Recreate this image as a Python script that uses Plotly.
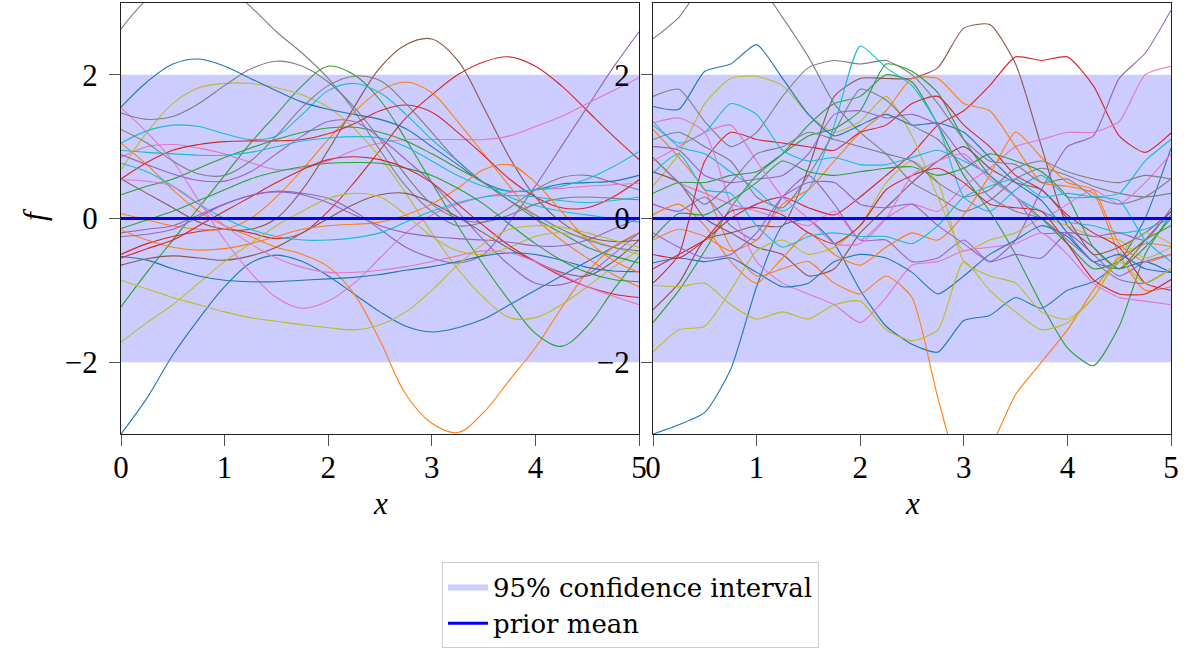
import plotly.graph_objects as go
from plotly.subplots import make_subplots

# ---------------- data ----------------
x_grid = [0, 0.25, 0.5, 0.75, 1, 1.25, 1.5, 1.75, 2, 2.25, 2.5, 2.75, 3,
          3.25, 3.5, 3.75, 4, 4.25, 4.5, 4.75, 5]
x_ticks = [0, 1, 2, 3, 4, 5]
y_ticks = [-2, 0, 2]
x_range = [0, 5]
y_range = [-3, 3]
prior_mean = [0, 0]
band_upper = [2, 2]
band_lower = [-2, -2]

# Left panel: smooth prior samples
L_blue_a = [-3.0, -2.5, -1.9, -1.4, -0.95, -0.62, -0.51, -0.6, -0.8, -1.05, -1.3, -1.5, -1.58, -1.52, -1.4, -1.2, -1.0, -0.8, -0.6, -0.4, -0.2]
L_orange_a = [1.05, 0.75, 0.4, 0.1, -0.1, -0.25, -0.4, -0.5, -0.67, -1.05, -1.7, -2.45, -2.85, -2.98, -2.7, -2.25, -1.8, -1.25, -0.75, -0.4, -0.2]
L_green_a = [-1.23, -0.75, -0.3, 0.15, 0.6, 1.05, 1.45, 1.85, 2.12, 2.0, 1.65, 1.1, 0.5, -0.1, -0.65, -1.15, -1.6, -1.78, -1.5, -1.0, -0.53]
L_red_a = [-0.5, -0.35, -0.25, -0.18, -0.15, -0.2, -0.28, -0.2, 0.1, 0.5, 0.95, 1.4, 1.72, 2.0, 2.18, 2.25, 2.12, 1.85, 1.5, 1.15, 0.82]
L_purple_a = [-0.2, -0.15, -0.1, 0.05, 0.2, 0.32, 0.38, 0.35, 0.28, 0.1, -0.15, -0.4, -0.55, -0.62, -0.5, -0.05, 0.45, 1.0, 1.55, 2.1, 2.6]
L_brown_a = [0.55, 0.35, 0.15, -0.05, -0.15, -0.15, 0.0, 0.4, 0.95, 1.55, 2.1, 2.42, 2.5, 2.2, 1.55, 0.85, 0.3, -0.05, -0.25, -0.32, -0.3]
L_pink_a = [0.85, 1.0, 1.03, 0.98, 0.9, 0.78, 0.68, 0.7, 0.8, 0.95, 1.05, 1.1, 1.1, 1.1, 1.1, 1.15, 1.28, 1.42, 1.6, 1.78, 1.96]
L_gray_a = [2.64, 3.05, 3.3, 3.4, 3.25, 2.95, 2.6, 2.3, 1.95, 1.5, 0.95, 0.45, 0.1, -0.1, -0.05, 0.15, 0.4, 0.57, 0.6, 0.5, 0.4]
L_olive_a = [0.68, 1.2, 1.6, 1.82, 1.88, 1.88, 1.82, 1.72, 1.55, 1.25, 0.85, 0.35, -0.2, -0.7, -1.1, -1.38, -1.38, -1.2, -0.95, -0.68, -0.44]
L_cyan_a = [1.05, 1.22, 1.3, 1.28, 1.18, 1.1, 1.15, 1.45, 1.78, 1.88, 1.75, 1.45, 1.1, 0.8, 0.5, 0.3, 0.18, 0.1, 0.05, 0.0, -0.05]
L_blue_b = [1.55, 1.9, 2.15, 2.22, 2.12, 1.95, 1.78, 1.62, 1.52, 1.45, 1.38, 1.25, 1.0, 0.75, 0.5, 0.38, 0.4, 0.48, 0.5, 0.52, 0.6]
L_orange_b = [0.07, -0.02, -0.1, -0.15, -0.15, 0.0, 0.3, 0.68, 1.1, 1.48, 1.78, 1.9, 1.75, 1.35, 0.9, 0.45, 0.0, -0.3, -0.55, -0.78, -0.95]
L_green_b = [0.33, 0.45, 0.55, 0.7, 0.85, 0.98, 1.1, 1.2, 1.26, 1.27, 1.2, 1.08, 0.9, 0.7, 0.5, 0.25, 0.0, -0.2, -0.4, -0.52, -0.62]
L_red_b = [0.55, 0.78, 0.95, 1.03, 1.07, 1.08, 1.08, 1.1, 1.18, 1.32, 1.5, 1.58, 1.48, 1.2, 0.88, 0.55, 0.3, 0.15, 0.15, 0.3, 0.54]
L_purple_b = [0.89, 0.75, 0.62, 0.53, 0.52, 0.65, 0.9, 1.15, 1.35, 1.35, 1.12, 0.82, 0.5, 0.1, -0.3, -0.65, -0.9, -0.92, -0.78, -0.5, -0.2]
L_brown_b = [-0.65, -0.56, -0.52, -0.55, -0.58, -0.52, -0.4, -0.2, 0.0, 0.2, 0.33, 0.35, 0.22, 0.02, -0.2, -0.42, -0.6, -0.75, -0.8, -0.6, -0.3]
L_pink_b = [1.54, 1.2, 0.8, 0.25, -0.3, -0.75, -1.1, -1.25, -1.15, -0.9, -0.55, -0.2, 0.05, 0.2, 0.3, 0.36, 0.4, 0.42, 0.45, 0.47, 0.49]
L_gray_b = [1.47, 1.38, 1.42, 1.6, 1.85, 2.08, 2.19, 2.12, 1.9, 1.55, 1.1, 0.6, 0.2, 0.0, -0.05, 0.05, 0.2, 0.28, 0.3, 0.28, 0.26]
L_olive_b = [-1.72, -1.45, -1.2, -0.9, -0.6, -0.35, -0.1, 0.1, 0.28, 0.35, 0.3, 0.05, -0.25, -0.45, -0.5, -0.4, -0.25, -0.2, -0.28, -0.4, -0.5]
L_cyan_b = [0.77, 0.65, 0.45, 0.2, 0.0, -0.15, -0.25, -0.3, -0.3, -0.27, -0.2, -0.05, 0.1, 0.22, 0.3, 0.32, 0.3, 0.25, 0.22, 0.25, 0.3]
L_blue_c = [-0.53, -0.58, -0.7, -0.8, -0.86, -0.88, -0.88, -0.86, -0.84, -0.82, -0.78, -0.72, -0.67, -0.6, -0.52, -0.48, -0.5, -0.58, -0.68, -0.73, -0.74]
L_orange_c = [-0.16, -0.3, -0.4, -0.44, -0.42, -0.35, -0.25, -0.15, -0.1, -0.08, -0.05, 0.05, 0.2, 0.42, 0.68, 0.75, 0.5, 0.1, -0.3, -0.58, -0.75]
L_green_c = [-0.14, -0.02, 0.1, 0.25, 0.4, 0.55, 0.65, 0.72, 0.77, 0.78, 0.77, 0.7, 0.6, 0.42, 0.2, -0.08, -0.35, -0.58, -0.75, -0.85, -0.88]
L_red_c = [-0.55, -0.42, -0.3, -0.1, 0.1, 0.3, 0.5, 0.68, 0.82, 0.86, 0.82, 0.7, 0.5, 0.2, -0.1, -0.38, -0.6, -0.8, -0.95, -1.05, -1.1]
L_purple_c = [-0.25, -0.22, -0.15, 0.02, 0.2, 0.32, 0.37, 0.33, 0.22, 0.05, -0.1, -0.2, -0.25, -0.28, -0.3, -0.33, -0.38, -0.38, -0.3, -0.15, 0.0]
L_pink_c = [0.54, 0.52, 0.45, 0.2, -0.1, -0.35, -0.55, -0.68, -0.75, -0.75, -0.72, -0.67, -0.6, -0.52, -0.45, -0.48, -0.6, -0.78, -0.95, -1.08, -1.2]
L_gray_c = [1.24, 1.05, 0.8, 0.62, 0.6, 0.8, 1.15, 1.55, 1.85, 1.98, 1.92, 1.6, 1.2, 0.8, 0.5, 0.25, 0.05, -0.15, -0.3, -0.4, -0.45]
L_olive_c = [-0.86, -0.98, -1.1, -1.2, -1.3, -1.38, -1.43, -1.48, -1.52, -1.55, -1.48, -1.3, -1.0, -0.65, -0.35, -0.15, -0.1, -0.12, -0.2, -0.3, -0.4]
L_cyan_c = [0.95, 0.92, 0.9, 0.88, 0.88, 0.92, 1.0, 1.08, 1.12, 1.14, 1.12, 1.0, 0.8, 0.6, 0.45, 0.38, 0.4, 0.45, 0.55, 0.72, 0.93]

# Right panel: rough prior samples
R_blue_a = [-3.0, -2.87, -2.7, -2.1, -0.95, -0.1, -0.02, -0.35, -1.0, -1.5, -1.75, -1.86, -1.42, -1.35, -1.1, -1.25, -1.0, -0.88, -0.6, 0.0, 0.98]
R_orange_a = [1.24, 0.85, 0.4, -0.4, -0.8, -0.7, -0.6, -0.9, -1.05, -0.8, -1.1, -2.5, -3.6, -3.2, -2.45, -2.0, -1.55, -1.0, -0.55, -0.35, -0.39]
R_green_a = [-1.45, -1.0, -0.45, 0.15, 0.6, 0.9, 1.3, 1.6, 1.7, 2.0, 1.9, 1.3, 0.6, 0.1, -0.5, -1.2, -1.8, -2.05, -1.5, -0.5, 0.05]
R_red_a = [-0.7, -0.5, -0.3, 0.0, 0.2, 0.3, 0.15, 0.05, 0.3, 0.6, 0.9, 1.3, 1.5, 1.85, 2.25, 2.2, 2.25, 1.85, 1.15, 0.92, 1.19]
R_purple_a = [0.2, 0.1, 0.3, -0.1, -0.3, 0.3, 0.6, 0.2, -0.3, -0.3, -0.6, -0.55, -0.3, -0.6, -0.3, 0.4, 1.0, 1.15, 1.95, 2.3, 2.9]
R_brown_a = [-1.27, -0.9, -0.3, -0.2, -0.1, -0.1, 0.7, 1.7, 1.95, 1.95, 1.95, 2.1, 2.65, 2.7, 2.15, 1.0, -0.1, -0.4, -0.7, -0.3, 0.1]
R_pink_a = [0.85, 0.5, 0.35, 0.2, 0.1, 0.0, -0.1, 0.1, -0.3, 0.0, 0.2, 0.1, 0.45, 0.7, 1.0, 1.1, 1.2, 1.2, 1.35, 2.0, 2.12]
R_gray_a = [2.5, 2.8, 3.3, 3.5, 3.3, 2.8, 2.25, 1.6, 1.2, 0.9, 0.5, 0.3, 0.1, 0.25, 0.55, 0.7, 0.6, 0.45, 0.35, 0.3, 0.35]
R_olive_a = [0.45, 0.9, 1.6, 1.95, 1.98, 1.85, 1.45, 1.2, 1.35, 1.7, 1.15, 0.3, -0.45, -0.3, -0.2, 0.0, -0.1, -0.25, -0.3, -0.55, -0.4]
R_cyan_a = [1.35, 1.0, 0.9, 0.65, 0.4, 0.1, 0.4, 1.3, 2.4, 2.1, 1.85, 1.3, 0.3, 0.1, 0.4, 0.6, 0.3, 0.3, 0.35, 0.8, 1.1]
R_blue_b = [1.56, 1.52, 2.05, 2.15, 2.42, 1.95, 1.45, 1.15, 1.3, 1.45, 1.3, 1.33, 1.2, 0.85, 0.5, 0.25, -0.2, -0.6, -0.7, -0.6, -0.75]
R_orange_b = [-0.3, -0.15, -0.25, -0.45, -0.3, 0.2, 0.4, 0.8, 1.2, 1.5, 1.95, 1.95, 1.6, 1.5, 1.0, 0.5, 0.45, 0.35, -0.5, -1.0, -0.95]
R_green_b = [0.35, 0.5, 0.5, 0.6, 0.65, 0.9, 1.15, 1.25, 1.5, 2.15, 2.05, 1.75, 1.1, 0.6, 0.3, 0.0, -0.35, -0.7, -0.6, -0.3, -0.1]
R_red_b = [-0.9, -0.5, 0.8, 1.2, 1.1, 1.05, 1.0, 0.95, 1.2, 1.3, 1.6, 1.7, 1.3, 1.0, 0.6, 0.4, 0.05, -0.2, -0.4, -0.9, -1.0]
R_purple_b = [1.0, 0.95, 0.6, 0.5, 0.55, 0.6, 0.9, 1.45, 1.5, 1.4, 1.45, 1.3, 0.85, 0.6, 0.3, -0.2, -0.2, -0.5, -0.8, -0.6, -0.5]
R_brown_b = [0.65, 0.5, 0.0, -0.2, -0.4, -0.5, -0.8, -0.7, -0.2, 0.15, 0.5, 0.8, 1.0, 0.7, 0.5, 0.4, 0.0, -0.5, -0.4, -0.2, 0.1]
R_pink_b = [1.33, 1.4, 1.2, 0.2, -0.6, -0.9, -1.05, -1.2, -1.45, -1.1, -0.65, -0.6, -0.45, -0.4, -0.35, -0.2, -0.5, -0.9, -1.1, -1.15, -1.2]
R_gray_b = [1.7, 1.8, 1.35, 1.0, 1.2, 1.7, 2.1, 2.2, 2.15, 2.2, 2.0, 1.6, 1.1, 0.8, 0.75, 0.5, 0.55, 0.3, 0.2, 0.3, 0.55]
R_olive_b = [-1.86, -1.55, -1.5, -1.0, -0.45, -0.3, -0.5, -0.4, -0.1, 0.5, 0.8, 0.5, -0.6, -0.8, -0.9, -1.3, -1.4, -1.1, -0.5, -0.2, -0.35]
R_cyan_b = [1.3, 1.05, 1.2, 1.6, 1.45, 0.95, 0.8, 0.85, 0.75, 0.75, 0.85, 0.95, 0.8, 0.6, 0.3, 0.1, -0.05, -0.1, -0.2, -0.15, 0.0]
R_blue_c = [-0.62, -0.55, -0.6, -0.55, -0.75, -0.95, -0.9, -0.6, -0.5, -0.55, -0.75, -1.05, -0.8, -0.5, -0.3, -0.1, -0.25, -0.6, -0.5, -0.7, -0.75]
R_orange_c = [0.05, 0.2, -0.1, -0.6, -0.9, -0.55, -0.2, -0.5, -0.65, -0.4, -0.2, -0.3, 0.05, 0.6, 1.2, 0.85, 0.5, 0.4, -0.35, -0.6, -0.5]
R_green_c = [-0.27, 0.07, 0.05, 0.25, 0.5, 0.8, 0.65, 0.6, 0.65, 0.7, 0.72, 0.6, 0.7, 0.9, 0.8, 0.65, 0.3, -0.4, -0.7, -0.4, 0.0]
R_red_c = [-0.5, -0.55, -0.3, 0.1, 0.15, 0.05, -0.2, -0.35, -0.1, 0.4, 0.6, 0.7, 0.5, 0.2, 0.15, 0.1, -0.35, -0.85, -1.05, -1.05, -0.85]
R_purple_c = [-0.2, -0.4, -0.55, -0.5, -0.2, 0.3, 0.5, 0.5, 0.2, 0.15, 0.2, -0.1, -0.35, -0.6, -0.5, -0.55, -0.2, -0.25, -0.2, -0.3, 0.15]
R_pink_c = [0.8, 1.0, 1.2, 1.3, 0.8, 0.3, 0.0, -0.35, -0.35, 0.0, 0.6, 0.8, 0.9, 0.55, 0.3, 0.0, 0.2, 0.4, 0.2, 0.5, 0.9]
R_gray_c = [1.1, 1.2, 1.0, 0.8, 0.3, 0.15, 0.6, 1.2, 1.8, 1.65, 1.3, 1.1, 0.7, 0.3, 0.1, 0.0, -0.3, -0.6, -0.85, -0.9, -0.7]
R_olive_c = [-0.93, -0.95, -0.9, -1.2, -1.4, -1.3, -1.4, -1.2, -1.15, -1.55, -1.7, -1.55, -0.6, -1.0, -1.3, -1.55, -1.45, -1.1, -0.6, -0.9, -0.7]
R_cyan_c = [0.63, 0.9, 0.4, 0.35, -0.1, -0.4, -0.25, -0.2, -0.25, -0.25, -0.35, -0.1, 0.3, 0.45, 0.55, 0.3, 0.35, 0.3, 0.25, -0.3, -0.6]
R_gray_d = [0.85, 0.5, 0.2, 0.5, 0.9, 1.0, 1.2, 1.1, 1.0, 0.9, 0.8, 0.5, 0.3, 0.4, 0.7, 0.8, 0.65, 0.55, 0.5, 0.6, 0.55]

# ---------------- styles ----------------
C = {"blue": "#1f77b4", "orange": "#ff7f0e", "green": "#2ca02c", "red": "#d62728",
     "purple": "#9467bd", "brown": "#8c564b", "pink": "#e377c2", "gray": "#7f7f7f",
     "olive": "#bcbd22", "cyan": "#17becf"}

left_samples = [
    ("blue", L_blue_a), ("orange", L_orange_a), ("green", L_green_a), ("red", L_red_a),
    ("purple", L_purple_a), ("brown", L_brown_a), ("pink", L_pink_a), ("gray", L_gray_a),
    ("olive", L_olive_a), ("cyan", L_cyan_a), ("blue", L_blue_b), ("orange", L_orange_b),
    ("green", L_green_b), ("red", L_red_b), ("purple", L_purple_b), ("brown", L_brown_b),
    ("pink", L_pink_b), ("gray", L_gray_b), ("olive", L_olive_b), ("cyan", L_cyan_b),
    ("blue", L_blue_c), ("orange", L_orange_c), ("green", L_green_c), ("red", L_red_c),
    ("purple", L_purple_c), ("pink", L_pink_c), ("gray", L_gray_c), ("olive", L_olive_c),
    ("cyan", L_cyan_c),
]
right_samples = [
    ("blue", R_blue_a), ("orange", R_orange_a), ("green", R_green_a), ("red", R_red_a),
    ("purple", R_purple_a), ("brown", R_brown_a), ("pink", R_pink_a), ("gray", R_gray_a),
    ("olive", R_olive_a), ("cyan", R_cyan_a), ("blue", R_blue_b), ("orange", R_orange_b),
    ("green", R_green_b), ("red", R_red_b), ("purple", R_purple_b), ("brown", R_brown_b),
    ("pink", R_pink_b), ("gray", R_gray_b), ("olive", R_olive_b), ("cyan", R_cyan_b),
    ("blue", R_blue_c), ("orange", R_orange_c), ("green", R_green_c), ("red", R_red_c),
    ("purple", R_purple_c), ("pink", R_pink_c), ("gray", R_gray_c), ("olive", R_olive_c),
    ("cyan", R_cyan_c), ("gray", R_gray_d),
]

FONT = "Liberation Serif"
LEGEND_FONT = "DejaVu Serif"
W, H = 1187, 650

fig = make_subplots(rows=1, cols=2)

for col in (1, 2):
    first = col == 1
    fig.add_trace(go.Scatter(x=x_range, y=band_upper, mode="lines", line=dict(width=0),
                             showlegend=False, hoverinfo="skip"), row=1, col=col)
    fig.add_trace(go.Scatter(x=x_range, y=band_lower, mode="lines", line=dict(width=0),
                             fill="tonexty", fillcolor="rgba(0,0,255,0.2)",
                             name="95% confidence interval", showlegend=first,
                             legendrank=1), row=1, col=col)
    samples = left_samples if first else right_samples
    for cname, ys in samples:
        line = dict(color=C[cname], width=1.1, shape="spline",
                    smoothing=1.0 if first else 0.6)
        fig.add_trace(go.Scatter(x=x_grid, y=ys, mode="lines", line=line,
                                 showlegend=False), row=1, col=col)
    fig.add_trace(go.Scatter(x=x_range, y=prior_mean, mode="lines",
                             line=dict(color="#0000ff", width=3),
                             name="prior mean", showlegend=first, legendrank=2),
                  row=1, col=col)


def px_x(p):
    return p / W


def px_y(p):
    return 1 - p / H


axis_common = dict(showgrid=False, zeroline=False, showline=True, mirror=True,
                   linecolor="#222222", linewidth=1.3, ticks="outside", ticklen=11,
                   tickwidth=1.3, tickcolor="#555555", automargin=False,
                   tickfont=dict(family=FONT, size=31, color="black"))

fig.update_xaxes(range=x_range, tickvals=x_ticks, ticklabelstandoff=-5, **axis_common)
fig.update_yaxes(range=y_range, tickvals=y_ticks, ticklabelstandoff=5, **axis_common)

title_font = dict(family=FONT, size=31, color="black")
annotations = [
    dict(text="<i>x</i>", x=px_x(380), y=px_y(503), xref="paper", yref="paper",
         showarrow=False, font=title_font, xanchor="center", yanchor="middle"),
    dict(text="<i>x</i>", x=px_x(912), y=px_y(503), xref="paper", yref="paper",
         showarrow=False, font=title_font, xanchor="center", yanchor="middle"),
    dict(text="<i>f</i>", x=px_x(35), y=px_y(215), xref="paper", yref="paper",
         showarrow=False, font=title_font, xanchor="center", yanchor="middle",
         textangle=-90),
]

fig.update_layout(
    xaxis=dict(domain=[px_x(121), px_x(639)]),
    xaxis2=dict(domain=[px_x(653), px_x(1171)]),
    yaxis=dict(domain=[px_y(434), px_y(3)]),
    yaxis2=dict(domain=[px_y(434), px_y(3)]),
    width=W, height=H,
    margin=dict(l=0, r=0, t=0, b=0, autoexpand=False),
    paper_bgcolor="white", plot_bgcolor="white",
    font=dict(family=FONT, color="black"),
    annotations=annotations,
    legend=dict(x=px_x(442), y=px_y(562), xanchor="left", yanchor="top",
                bordercolor="#cccccc", borderwidth=1, bgcolor="white",
                font=dict(family=LEGEND_FONT, size=26, color="black"),
                traceorder="normal", tracegroupgap=0, itemwidth=40),
    showlegend=True,
)

fig.write_html("out.html", config={"displayModeBar": False},
               post_script="document.body.style.margin='0';document.body.style.overflow='hidden';")
